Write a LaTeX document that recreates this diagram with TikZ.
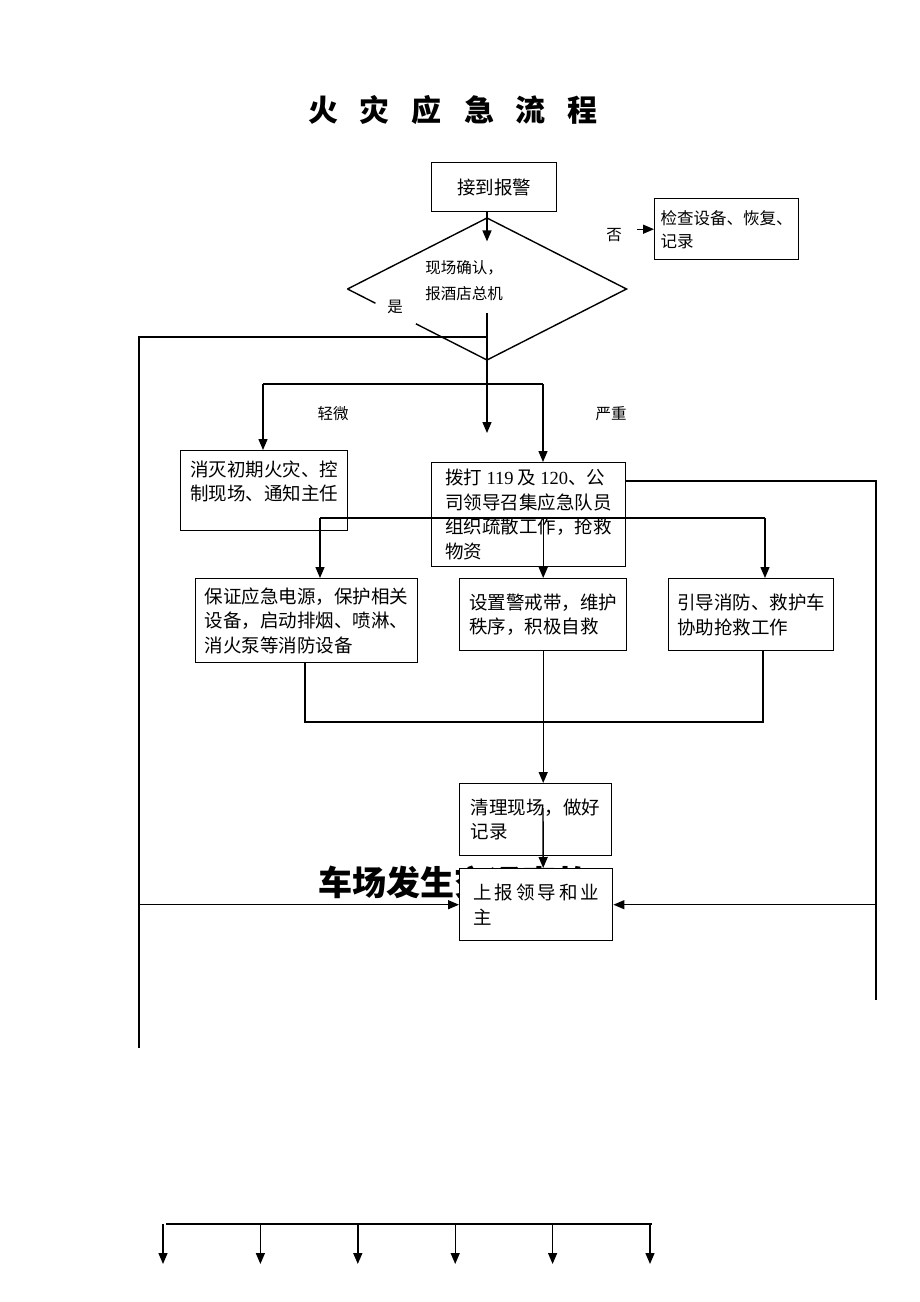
\documentclass[tikz,border=0pt]{standalone}
\usepackage{fontspec}
\setmainfont{Noto Sans CJK SC}
\newfontfamily\latinfont{Liberation Serif}
\usetikzlibrary{arrows.meta,shapes.geometric,calc}
\tikzset{
  box/.style={draw, line width=1.4pt, align=left, inner sep=0pt, anchor=north west, font=\fontsize{18.5}{24.5}\selectfont},
  tag/.style={font=\fontsize{15.5}{18}\selectfont, inner sep=1pt, align=left},
  arr/.style={-{Triangle[length=11pt,width=9pt]}}
}
\begin{document}
\begin{tikzpicture}[x=1pt,y=-1pt,line width=1.4pt]
\useasboundingbox (0,0) rectangle (920,1302);

\node[font=\bfseries\fontsize{30}{34}\selectfont] (title) at (453,110) {火\hspace{22pt}灾\hspace{22pt}应\hspace{22pt}急\hspace{22pt}流\hspace{22pt}程};

% boxes
\node[box, minimum width=125pt, minimum height=49pt] (recv) at (431,162) {接到报警};
\node[box, minimum width=144pt, minimum height=61pt, font=\fontsize{16.5}{23}\selectfont] (chk) at (654,198) {检查设备、恢复、\\记录};
\node[diamond, minimum width=279pt, minimum height=142pt, inner sep=0pt, outer sep=0pt] (check) at (487,289) {};
\node[tag, font=\fontsize{15.5}{26}\selectfont] (checktext) at (464,281) {现场确认，\\报酒店总机};
\node[box, minimum width=167pt, minimum height=80pt] (minor) at (180,450) {消灭初期火灾、控\\制现场、通知主任\\[-4pt]\mbox{}};
\node[box, minimum width=194pt, minimum height=104pt] (serious) at (431,462) {拨打 {\latinfont 119} 及 {\latinfont 120}、公\\司领导召集应急队员\\组织疏散工作，抢救\\物资};
\node[box, minimum width=222pt, minimum height=84pt] (power) at (195,578) {保证应急电源，保护相关\\设备，启动排烟、喷淋、\\消火泵等消防设备};
\node[box, minimum width=167pt, minimum height=72pt] (cordon) at (459,578) {设置警戒带，维护\\秩序，积极自救};
\node[box, minimum width=165pt, minimum height=72pt] (guide) at (668,578) {引导消防、救护车\\协助抢救工作};
\node[box, minimum width=152pt, minimum height=72pt] (clean) at (459,783) {清理现场，做好\\记录};
\node[font=\bfseries\fontsize{34}{38}\selectfont, anchor=west, inner sep=0pt] (accident) at (318,882) {车场发生交通事故};
\node[box, fill=white, minimum width=153pt, minimum height=72pt] (report) at (459,868) {上\hspace{3pt}报\hspace{3pt}领\hspace{3pt}导\hspace{3pt}和\hspace{3pt}业\\主};

% diamond outline with gap at the yes label
\draw (check.west) -- ($(check.west)!0.2!(check.south)$);
\draw ($(check.west)!0.49!(check.south)$) -- (check.south) -- (check.east) -- (check.north) -- (check.west);

\node[tag] (yes) at (395,307) {是};
\node[tag] (no) at (614,235) {否};
\node[tag] (light) at (333,414) {轻微};
\node[tag] (heavy) at (611,414) {严重};

% connectors
\coordinate (ytop) at (487,313);
\coordinate (yend) at (487,433);
\coordinate (leftjoin) at (487,337);
\coordinate (leftbus) at (139,1048);
\coordinate (sl) at (263,384);
\coordinate (sr) at (543,384);
\coordinate (rightbus) at (876,1000);
\coordinate (tl) at (320,518);
\coordinate (tr) at (765,518);
\coordinate (ml) at (305,722);
\coordinate (mr) at (763,722);

\draw[arr] (recv.south -| check.north) -- ++(0,29);
\draw[arr] ([xshift=-17pt]chk.west) -- (chk.west);
\draw[arr] (ytop) -- (yend);
\draw (leftjoin) -- (leftjoin -| leftbus) -- (leftbus);
\draw[arr] (report.west -| leftbus) -- (report.west);

\draw (sl) -- (sr);
\draw[arr] (sl) -- (sl |- minor.north);
\draw[arr] (sr) -- (sr |- serious.north);

\draw ($(serious.north east)+(0,19)$) -- (rightbus |- 0,481) -- (rightbus);
\draw[arr] (report.east -| rightbus) -- (report.east);

\draw (tl) -- (tr);
\draw[arr] (tl) -- (tl |- power.north);
\draw[arr] (cordon.north |- tl) -- (cordon.north);
\draw[arr] (tr) -- (tr |- guide.north);

\draw (power.south -| ml) -- (ml) -- (mr) -- (mr |- guide.south);
\draw[arr] (cordon.south) -- (cordon.south |- clean.north);
\draw[arr] ($(clean.north west)+(84,25)$) -- (report.north -| cordon.south);

% bottom fan
\draw (166,1224) -- (652,1224);
\foreach \i in {0,...,5}
  \draw[arr] ({163+97.4*\i},1224) -- ++(0,40);
\end{tikzpicture}
\end{document}
